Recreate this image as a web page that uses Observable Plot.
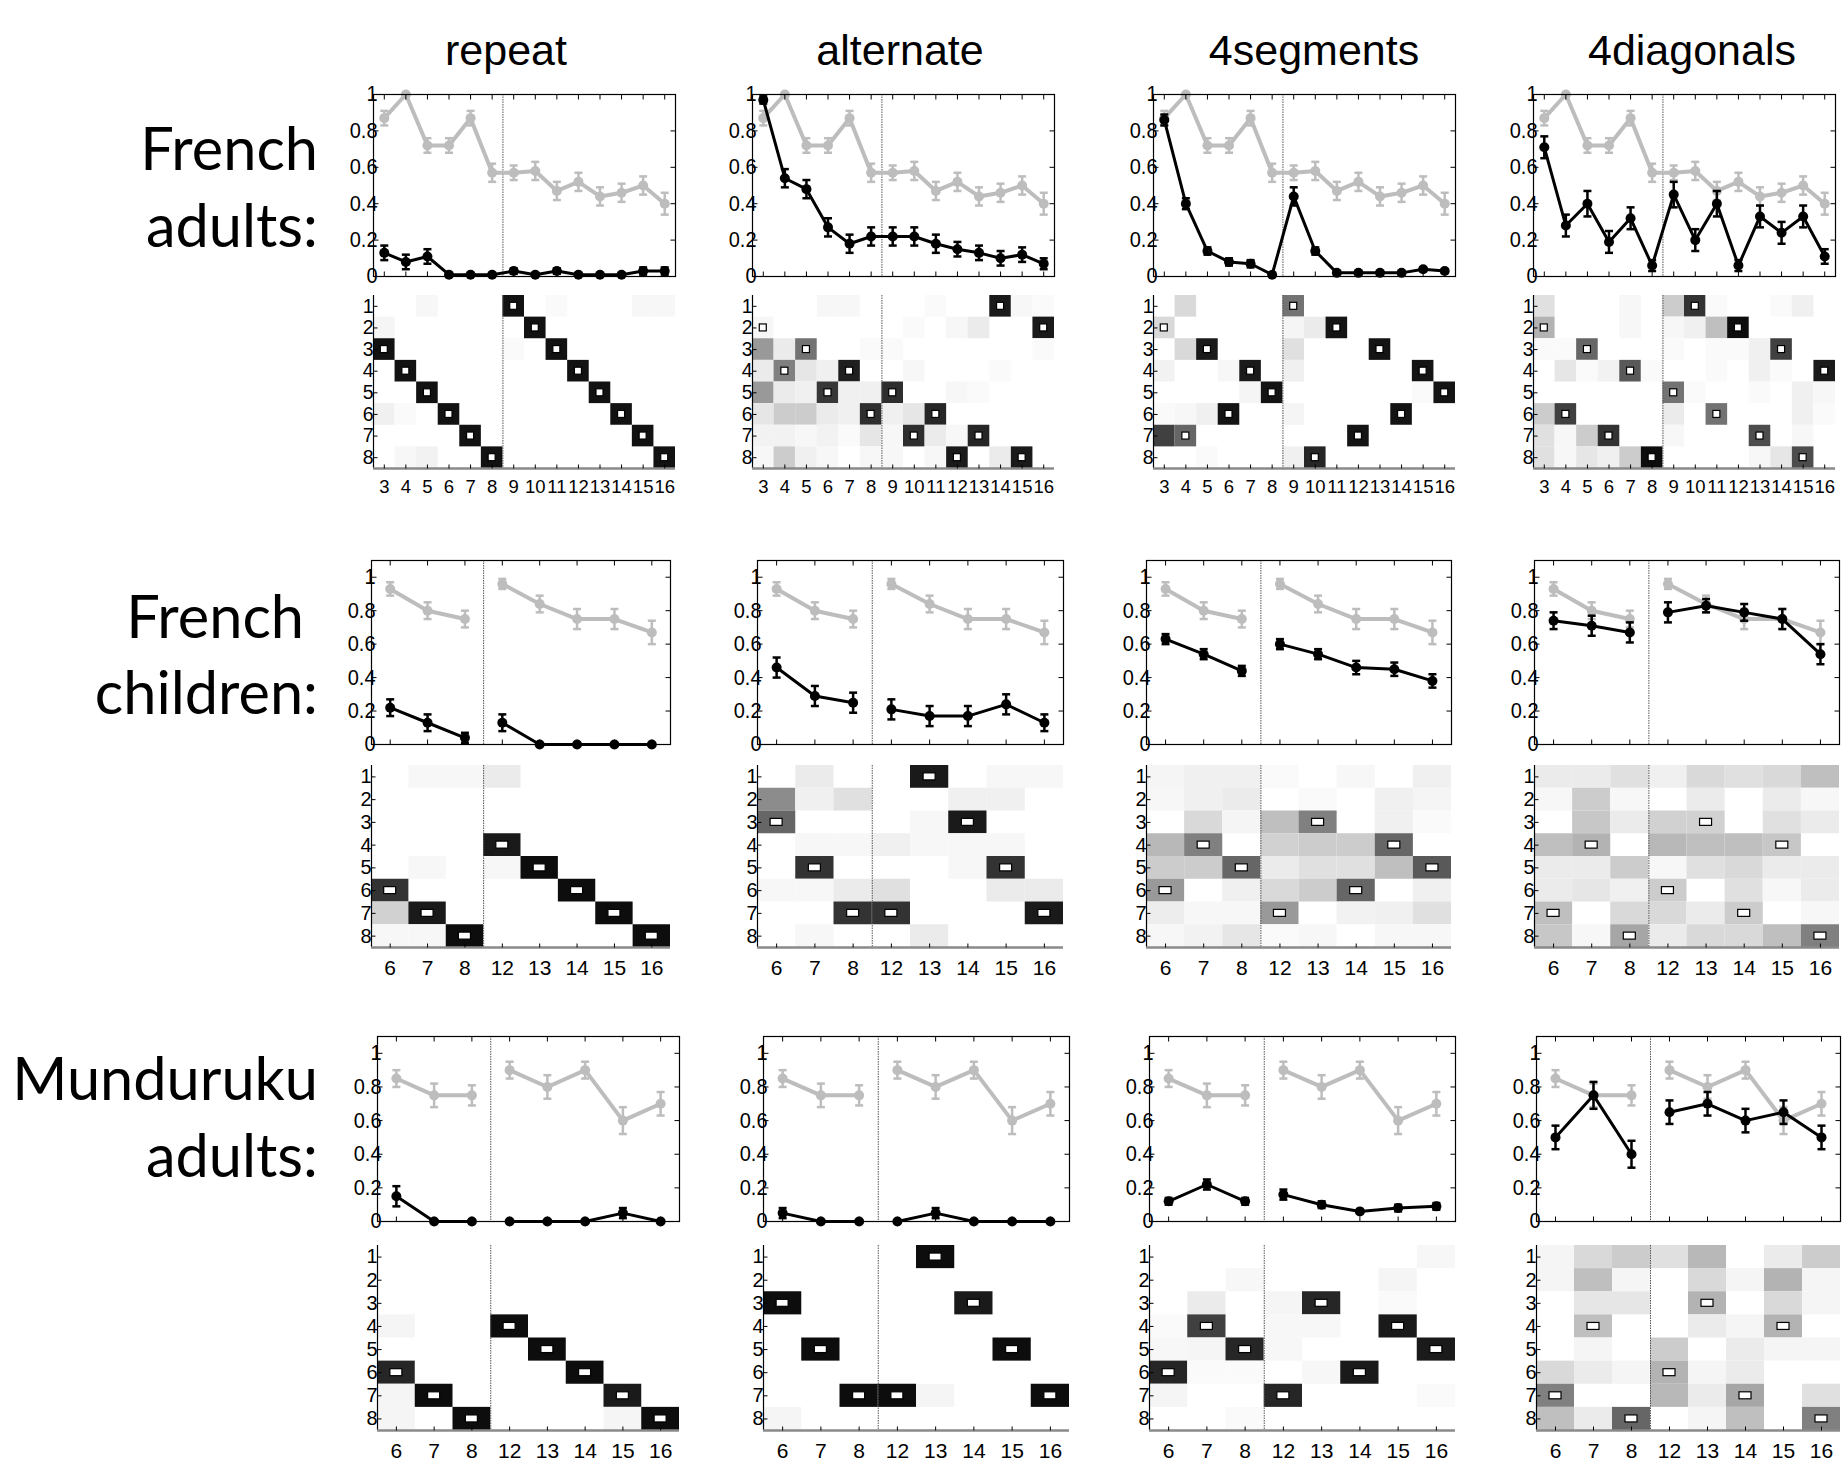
<!DOCTYPE html>
<html>
<head>
<meta charset="utf-8">
<script src="https://cdn.jsdelivr.net/npm/d3@7"></script>
<script src="https://cdn.jsdelivr.net/npm/@observablehq/plot@0.6"></script>
<style>
  html, body { margin: 0; padding: 0; background: #fff; }
  #root { position: relative; width: 1845px; height: 1467px; overflow: hidden; background: #fff; }
  .panel { position: absolute; }
  .title { position: absolute; font-family: "Liberation Sans", Arial, sans-serif; font-size: 43px; line-height: 43px; color: #000; transform: translateX(-50%); white-space: nowrap; }
  .glabel { position: absolute; font-family: Lato, "Noto Sans", sans-serif; font-size: 59.5px; line-height: 59.5px; color: #000; white-space: nowrap; text-align: right; }
</style>
</head>
<body>
<div id="root"></div>
<script>
// ---------------- DATA ----------------
const titles = ["repeat", "alternate", "4segments", "4diagonals"];
const groupLabels = [["French", "adults:"], ["French", "children:"], ["Munduruku", "adults:"]];
const colsAdults = [3, 4, 5, 6, 7, 8, 9, 10, 11, 12, 13, 14, 15, 16];
const colsShort = [6, 7, 8, 12, 13, 14, 15, 16];
const yTicks = [0, 0.2, 0.4, 0.6, 0.8, 1];
const rowTicks = [1, 2, 3, 4, 5, 6, 7, 8];

// grey reference series (same in every panel of a group)
const grayFA    = [0.87, 1.0, 0.72, 0.72, 0.87, 0.57, 0.57, 0.58, 0.47, 0.52, 0.44, 0.46, 0.50, 0.40];
const grayFAErr = [0.04, 0.0, 0.04, 0.04, 0.04, 0.05, 0.04, 0.05, 0.05, 0.05, 0.05, 0.05, 0.05, 0.06];
const grayFC    = [0.93, 0.80, 0.75, 0.96, 0.84, 0.75, 0.75, 0.67];
const grayFCErr = [0.04, 0.05, 0.05, 0.03, 0.05, 0.06, 0.06, 0.07];
const grayMA    = [0.85, 0.75, 0.75, 0.90, 0.80, 0.90, 0.60, 0.70];
const grayMAErr = [0.05, 0.07, 0.06, 0.05, 0.07, 0.05, 0.08, 0.07];

// black series: French adults
const faRepeat     = [0.13, 0.08, 0.11, 0.01, 0.01, 0.01, 0.03, 0.01, 0.03, 0.01, 0.01, 0.01, 0.03, 0.03];
const faRepeatErr  = [0.04, 0.04, 0.04, 0.01, 0, 0, 0.015, 0, 0.015, 0, 0, 0, 0.02, 0.02];
const faAlt        = [0.97, 0.54, 0.48, 0.27, 0.18, 0.22, 0.22, 0.22, 0.18, 0.15, 0.13, 0.10, 0.12, 0.07];
const faAltErr     = [0.02, 0.05, 0.05, 0.05, 0.05, 0.05, 0.05, 0.05, 0.05, 0.04, 0.04, 0.04, 0.04, 0.03];
const faSeg        = [0.86, 0.40, 0.14, 0.08, 0.07, 0.01, 0.44, 0.14, 0.02, 0.02, 0.02, 0.02, 0.04, 0.03];
const faSegErr     = [0.03, 0.03, 0.02, 0.02, 0.02, 0, 0.05, 0.02, 0, 0, 0, 0, 0.01, 0.01];
const faDiag       = [0.71, 0.28, 0.40, 0.19, 0.32, 0.06, 0.45, 0.20, 0.40, 0.06, 0.33, 0.24, 0.33, 0.11];
const faDiagErr    = [0.06, 0.06, 0.07, 0.06, 0.06, 0.03, 0.07, 0.06, 0.07, 0.03, 0.06, 0.06, 0.06, 0.04];
// French children
const fcRepeat     = [0.22, 0.13, 0.04, 0.13, 0.0, 0.0, 0.0, 0.0];
const fcRepeatErr  = [0.05, 0.05, 0.03, 0.05, 0, 0, 0, 0];
const fcAlt        = [0.46, 0.29, 0.25, 0.21, 0.17, 0.17, 0.24, 0.13];
const fcAltErr     = [0.06, 0.06, 0.06, 0.06, 0.06, 0.06, 0.06, 0.05];
const fcSeg        = [0.63, 0.54, 0.44, 0.60, 0.54, 0.46, 0.45, 0.38];
const fcSegErr     = [0.03, 0.03, 0.03, 0.03, 0.03, 0.04, 0.04, 0.04];
const fcDiag       = [0.74, 0.71, 0.67, 0.79, 0.83, 0.79, 0.75, 0.54];
const fcDiagErr    = [0.05, 0.06, 0.06, 0.06, 0.04, 0.05, 0.06, 0.06];
// Munduruku adults
const maRepeat     = [0.15, 0.0, 0.0, 0.0, 0.0, 0.0, 0.05, 0.0];
const maRepeatErr  = [0.06, 0, 0, 0, 0, 0, 0.03, 0];
const maAlt        = [0.05, 0.0, 0.0, 0.0, 0.05, 0.0, 0.0, 0.0];
const maAltErr     = [0.03, 0, 0, 0, 0.03, 0, 0, 0];
const maSeg        = [0.12, 0.22, 0.12, 0.16, 0.10, 0.06, 0.08, 0.09];
const maSegErr     = [0.02, 0.03, 0.02, 0.03, 0.02, 0.01, 0.02, 0.02];
const maDiag       = [0.50, 0.75, 0.40, 0.65, 0.70, 0.60, 0.65, 0.50];
const maDiagErr    = [0.07, 0.08, 0.08, 0.07, 0.07, 0.07, 0.07, 0.07];

// response matrices (rows 1..8 x columns) and target rows per column
const heatFARepeat = [
  [0, 0, 0.03, 0, 0, 0, 0.93, 0, 0.02, 0, 0, 0, 0.03, 0.03],
  [0.04, 0, 0, 0, 0, 0, 0, 0.93, 0, 0, 0, 0, 0, 0],
  [0.93, 0, 0, 0, 0, 0, 0.02, 0, 0.93, 0, 0, 0, 0, 0],
  [0, 0.93, 0, 0, 0, 0, 0, 0, 0, 0.93, 0, 0, 0, 0],
  [0, 0, 0.93, 0, 0, 0, 0, 0, 0, 0, 0.93, 0, 0, 0],
  [0.06, 0.02, 0, 0.93, 0, 0, 0, 0, 0, 0, 0, 0.93, 0, 0],
  [0, 0, 0, 0, 0.93, 0, 0, 0, 0, 0, 0, 0, 0.93, 0],
  [0, 0.03, 0.05, 0, 0, 0.93, 0, 0, 0, 0, 0, 0, 0, 0.93]
];
const targetFARepeat = [3, 4, 5, 6, 7, 8, 1, 2, 3, 4, 5, 6, 7, 8];
const heatFAAlt = [
  [0, 0, 0, 0.03, 0.03, 0, 0, 0, 0.02, 0, 0, 0.9, 0.03, 0.02],
  [0.03, 0, 0, 0, 0, 0, 0, 0.02, 0, 0.03, 0.08, 0, 0, 0.9],
  [0.4, 0.08, 0.55, 0, 0, 0.02, 0.02, 0, 0, 0, 0, 0, 0, 0.02],
  [0.08, 0.5, 0.1, 0.06, 0.88, 0, 0, 0.03, 0, 0, 0, 0.02, 0, 0],
  [0.4, 0.08, 0.06, 0.78, 0.06, 0.06, 0.82, 0, 0, 0.03, 0.02, 0, 0, 0],
  [0.1, 0.2, 0.2, 0.08, 0.06, 0.82, 0.06, 0.1, 0.85, 0, 0, 0, 0, 0],
  [0.05, 0.05, 0.03, 0.05, 0.02, 0.1, 0.03, 0.82, 0.08, 0.03, 0.85, 0, 0, 0],
  [0.03, 0.2, 0.06, 0.03, 0, 0.03, 0.03, 0, 0.03, 0.9, 0, 0.08, 0.9, 0]
];
const targetFAAlt = [2, 4, 3, 5, 4, 6, 5, 7, 6, 8, 7, 1, 8, 2];
const heatFASeg = [
  [0, 0.15, 0, 0, 0, 0, 0.55, 0, 0, 0, 0, 0, 0, 0],
  [0.15, 0, 0, 0, 0, 0, 0.04, 0.08, 0.92, 0, 0, 0, 0, 0],
  [0, 0.15, 0.9, 0, 0, 0, 0.12, 0, 0, 0, 0.92, 0, 0, 0],
  [0.05, 0, 0, 0.03, 0.9, 0, 0.06, 0, 0, 0, 0, 0, 0.92, 0],
  [0, 0, 0, 0, 0.04, 0.92, 0, 0, 0, 0, 0, 0, 0.02, 0.92],
  [0.02, 0.03, 0.06, 0.92, 0, 0, 0.04, 0, 0, 0, 0, 0.92, 0, 0],
  [0.75, 0.6, 0, 0, 0, 0, 0, 0, 0, 0.92, 0, 0, 0, 0],
  [0, 0, 0.02, 0, 0, 0, 0.06, 0.85, 0, 0, 0, 0, 0, 0]
];
const targetFASeg = [2, 7, 3, 6, 4, 5, 1, 8, 2, 7, 3, 6, 4, 5];
const heatFADiag = [
  [0.12, 0, 0, 0, 0.03, 0, 0.2, 0.8, 0.02, 0, 0, 0.02, 0.06, 0],
  [0.3, 0, 0, 0, 0.03, 0, 0.03, 0.06, 0.25, 0.95, 0, 0, 0, 0],
  [0.02, 0.02, 0.6, 0, 0, 0, 0.02, 0, 0.02, 0.02, 0.06, 0.75, 0, 0],
  [0, 0.1, 0.02, 0.05, 0.65, 0.02, 0, 0, 0.02, 0, 0.06, 0.02, 0, 0.9],
  [0, 0, 0, 0, 0, 0, 0.55, 0.02, 0, 0, 0.02, 0, 0.06, 0.03],
  [0.2, 0.75, 0, 0, 0, 0, 0.08, 0, 0.55, 0, 0, 0, 0.06, 0.02],
  [0.12, 0.03, 0.2, 0.8, 0, 0, 0.03, 0, 0, 0, 0.7, 0, 0.03, 0],
  [0.12, 0.03, 0.1, 0.06, 0.2, 0.95, 0, 0, 0, 0, 0.03, 0.1, 0.7, 0]
];
const targetFADiag = [2, 6, 3, 7, 4, 8, 5, 1, 6, 2, 7, 3, 8, 4];

const heatFCRepeat = [
  [0, 0.03, 0.03, 0.08, 0, 0, 0, 0],
  [0, 0, 0, 0, 0, 0, 0, 0],
  [0, 0, 0, 0, 0, 0, 0, 0],
  [0, 0, 0, 0.9, 0, 0, 0, 0],
  [0, 0.03, 0, 0.03, 0.95, 0, 0, 0],
  [0.8, 0, 0, 0, 0, 0.95, 0, 0],
  [0.18, 0.9, 0, 0, 0, 0, 0.95, 0],
  [0.03, 0.03, 0.95, 0, 0, 0, 0, 0.95]
];
const targetFCRepeat = [6, 7, 8, 4, 5, 6, 7, 8];
const heatFCAlt = [
  [0, 0.08, 0, 0, 0.9, 0, 0.03, 0.03],
  [0.45, 0.06, 0.12, 0, 0, 0.06, 0.06, 0],
  [0.6, 0, 0, 0, 0.03, 0.9, 0, 0],
  [0, 0.03, 0.03, 0.06, 0.03, 0.03, 0.03, 0],
  [0, 0.8, 0, 0, 0, 0.03, 0.8, 0],
  [0.03, 0.03, 0.08, 0.12, 0, 0, 0.08, 0.08],
  [0, 0, 0.8, 0.8, 0, 0, 0, 0.9],
  [0, 0.03, 0, 0, 0.08, 0, 0, 0]
];
const targetFCAlt = [3, 5, 7, 7, 1, 3, 5, 7];
const heatFCSeg = [
  [0.04, 0.06, 0.06, 0.02, 0, 0.03, 0, 0.06],
  [0.03, 0.06, 0.08, 0, 0.02, 0, 0.06, 0.04],
  [0, 0.15, 0.04, 0.25, 0.5, 0, 0.06, 0.02],
  [0.28, 0.5, 0, 0.18, 0.2, 0.2, 0.6, 0],
  [0.2, 0.2, 0.6, 0.08, 0.12, 0.12, 0.25, 0.65],
  [0.4, 0, 0.06, 0.15, 0.2, 0.6, 0, 0.06],
  [0.07, 0.03, 0.03, 0.4, 0, 0.05, 0.06, 0.12],
  [0.03, 0.05, 0.1, 0.02, 0.03, 0, 0.03, 0.03]
];
const targetFCSeg = [6, 4, 5, 7, 3, 6, 4, 5];
const heatFCDiag = [
  [0.08, 0.08, 0.12, 0.06, 0.15, 0.12, 0.15, 0.25],
  [0.03, 0.2, 0.03, 0, 0.08, 0, 0.08, 0.03],
  [0, 0.22, 0.08, 0.18, 0.18, 0, 0.12, 0.08],
  [0.25, 0.3, 0, 0.28, 0.25, 0.25, 0.22, 0],
  [0.08, 0.08, 0.2, 0.03, 0.12, 0.15, 0.08, 0.08],
  [0.08, 0.1, 0.06, 0.2, 0, 0.12, 0.03, 0.08],
  [0.25, 0, 0.15, 0.15, 0.08, 0.2, 0, 0.03],
  [0.22, 0.03, 0.35, 0.08, 0.15, 0.15, 0.25, 0.5]
];
const targetFCDiag = [7, 4, 8, 6, 3, 7, 4, 8];

const heatMARepeat = [
  [0, 0, 0, 0, 0, 0, 0, 0],
  [0, 0, 0, 0, 0, 0, 0, 0],
  [0, 0, 0, 0, 0, 0, 0, 0],
  [0.04, 0, 0, 0.95, 0, 0, 0, 0],
  [0, 0, 0, 0, 0.95, 0, 0, 0],
  [0.85, 0, 0, 0, 0, 0.95, 0, 0],
  [0.04, 0.95, 0, 0, 0, 0, 0.9, 0],
  [0.04, 0, 0.95, 0, 0, 0, 0.04, 0.95]
];
const targetMARepeat = [6, 7, 8, 4, 5, 6, 7, 8];
const heatMAAlt = [
  [0, 0, 0, 0, 0.95, 0, 0, 0],
  [0, 0, 0, 0, 0, 0, 0, 0],
  [0.95, 0, 0, 0, 0, 0.9, 0, 0],
  [0, 0, 0, 0, 0, 0, 0, 0],
  [0, 0.95, 0, 0, 0, 0, 0.95, 0],
  [0, 0, 0, 0, 0, 0, 0, 0],
  [0, 0, 0.95, 0.95, 0.04, 0, 0, 0.95],
  [0.04, 0, 0, 0, 0, 0, 0, 0]
];
const targetMAAlt = [3, 5, 7, 7, 1, 3, 5, 7];
const heatMASeg = [
  [0, 0, 0, 0, 0, 0, 0, 0.03],
  [0, 0, 0.03, 0, 0, 0, 0.04, 0],
  [0, 0.08, 0, 0.04, 0.85, 0, 0.02, 0],
  [0.02, 0.75, 0, 0.03, 0.03, 0, 0.9, 0],
  [0.03, 0.04, 0.85, 0.03, 0, 0, 0, 0.9],
  [0.85, 0.02, 0.02, 0, 0.03, 0.9, 0, 0],
  [0.04, 0, 0, 0.85, 0, 0, 0, 0.02],
  [0, 0, 0.02, 0, 0, 0, 0, 0]
];
const targetMASeg = [6, 4, 5, 7, 3, 6, 4, 5];
const heatMADiag = [
  [0.04, 0.15, 0.2, 0.12, 0.28, 0, 0.08, 0.2],
  [0.04, 0.25, 0.04, 0, 0.15, 0.04, 0.3, 0.04],
  [0, 0.1, 0.1, 0, 0.3, 0, 0.15, 0.04],
  [0, 0.25, 0, 0, 0.08, 0.04, 0.3, 0],
  [0, 0.04, 0, 0.2, 0, 0.08, 0.04, 0.04],
  [0.15, 0.08, 0.04, 0.3, 0.04, 0.08, 0, 0],
  [0.5, 0, 0, 0.28, 0.08, 0.35, 0, 0.12],
  [0.25, 0.08, 0.6, 0, 0.04, 0.25, 0, 0.5]
];
const targetMADiag = [7, 4, 8, 6, 3, 7, 4, 8];

// ---------------- LAYOUT ----------------
const root = document.getElementById("root");
const FONT = '"Liberation Sans", Arial, Helvetica, sans-serif';
const GRAY = "#bdbdbd";

const groups = [
  { cols: colsAdults, gray: grayFA, grayErr: grayFAErr, ymax: 1.0, divAt: 5.5, split: false,
    lineTop: 94, lineBottom: 276, heatTop: 295, heatBottom: 468, xfs: 18.5, xdy: 19, mark: [7, 7], yfs: 19.5, yk: 1.08,
    lefts: [373, 752, 1153, 1533], widths: [302, 302, 302, 302],
    panels: [[faRepeat, faRepeatErr, heatFARepeat, targetFARepeat], [faAlt, faAltErr, heatFAAlt, targetFAAlt],
             [faSeg, faSegErr, heatFASeg, targetFASeg], [faDiag, faDiagErr, heatFADiag, targetFADiag]] },
  { cols: colsShort, gray: grayFC, grayErr: grayFCErr, ymax: 1.1, divAt: 2.5, split: true,
    lineTop: 560, lineBottom: 744, heatTop: 765, heatBottom: 947, xfs: 21, xdy: 21, mark: [12, 7], yfs: 20, yk: 1.1,
    lefts: [371, 757, 1146, 1534], widths: [299, 306, 305, 305],
    panels: [[fcRepeat, fcRepeatErr, heatFCRepeat, targetFCRepeat], [fcAlt, fcAltErr, heatFCAlt, targetFCAlt],
             [fcSeg, fcSegErr, heatFCSeg, targetFCSeg], [fcDiag, fcDiagErr, heatFCDiag, targetFCDiag]] },
  { cols: colsShort, gray: grayMA, grayErr: grayMAErr, ymax: 1.1, divAt: 2.5, split: true,
    lineTop: 1036, lineBottom: 1221, heatTop: 1245, heatBottom: 1430, xfs: 21, xdy: 21, mark: [12, 7], yfs: 20, yk: 1.1,
    lefts: [377, 763, 1149, 1536], widths: [302, 306, 306, 304],
    panels: [[maRepeat, maRepeatErr, heatMARepeat, targetMARepeat], [maAlt, maAltErr, heatMAAlt, targetMAAlt],
             [maSeg, maSegErr, heatMASeg, targetMASeg], [maDiag, maDiagErr, heatMADiag, targetMADiag]] }
];

function place(svg, left, top, w, h) {
  const d = document.createElement("div");
  d.className = "panel";
  d.style.left = left + "px"; d.style.top = top + "px";
  d.style.width = w + "px"; d.style.height = h + "px";
  d.appendChild(svg);
  root.appendChild(d);
}

// stretch tick-label glyphs vertically (the original figure's labels are tall and narrow)
function stretchTexts(svg, k, selector) {
  svg.querySelectorAll(selector || 'g[aria-label="text"] text').forEach(t => {
    const tr = t.getAttribute("transform") || "";
    const x = +t.getAttribute("x") || 0, y = +t.getAttribute("y") || 0;
    t.setAttribute("transform", `${tr} translate(${x},${y}) scale(1,${k}) translate(${-x},${-y})`);
  });
}

function series(vals, errs, split) {
  return vals.map((v, i) => ({ i, v, e: errs[i], seg: split && i > 2 ? 1 : 0 }));
}

function linePanel(g, blk, blkErr, left, width) {
  const n = g.cols.length;
  const H = g.lineBottom - g.lineTop;
  const ml = 60, mr = 10, mt = 10, mb = 10;
  const stepX = width / n, pxY = H / g.ymax, tl = 5;
  const grayD = series(g.gray, g.grayErr, g.split);
  const blkD = series(blk, blkErr, g.split);
  const cap = 4 / stepX;
  const errMarks = (D, color, sw) => {
    const E = D.filter(d => d.e > 0);
    return [
      Plot.ruleX(E, { x: "i", y1: d => d.v - d.e, y2: d => d.v + d.e, stroke: color, strokeWidth: sw }),
      Plot.link(E, { x1: d => d.i - cap, x2: d => d.i + cap, y1: d => d.v + d.e, y2: d => d.v + d.e, stroke: color, strokeWidth: sw }),
      Plot.link(E, { x1: d => d.i - cap, x2: d => d.i + cap, y1: d => d.v - d.e, y2: d => d.v - d.e, stroke: color, strokeWidth: sw })
    ];
  };
  const xi = d3.range(n);
  const svg = Plot.plot({
    width: width + ml + mr, height: H + mt + mb,
    marginLeft: ml, marginRight: mr, marginTop: mt, marginBottom: mb,
    x: { domain: [-0.5, n - 0.5], axis: null },
    y: { domain: [0, g.ymax], axis: null },
    style: { background: "transparent", overflow: "visible", fontFamily: FONT },
    marks: [
      Plot.ruleX([g.divAt], { stroke: "#555", strokeWidth: 1, strokeDasharray: "1.5,1" }),
      Plot.line(grayD, { x: "i", y: "v", z: "seg", stroke: GRAY, strokeWidth: 4 }),
      ...errMarks(grayD, GRAY, 2.5),
      Plot.dot(grayD, { x: "i", y: "v", r: 5, fill: GRAY }),
      Plot.line(blkD, { x: "i", y: "v", z: "seg", stroke: "#000", strokeWidth: 3 }),
      ...errMarks(blkD, "#000", 2.5),
      Plot.dot(blkD, { x: "i", y: "v", r: 5, fill: "#000" }),
      // inward ticks
      Plot.link(xi, { x1: d => d, x2: d => d, y1: 0, y2: tl / pxY, stroke: "#000", strokeWidth: 1 }),
      Plot.link(xi, { x1: d => d, x2: d => d, y1: g.ymax, y2: g.ymax - tl / pxY, stroke: "#000", strokeWidth: 1 }),
      Plot.link(yTicks, { x1: -0.5, x2: -0.5 + tl / stepX, y1: d => d, y2: d => d, stroke: "#000", strokeWidth: 1 }),
      Plot.link(yTicks, { x1: n - 0.5, x2: n - 0.5 - tl / stepX, y1: d => d, y2: d => d, stroke: "#000", strokeWidth: 1 }),
      Plot.frame({ stroke: "#000", strokeWidth: 1.2 }),
      Plot.text(yTicks, { x: -0.5, y: d => d, text: d => (d === 0 || d === 1) ? String(d) : d.toFixed(1),
        textAnchor: "end", dx: 4, fontSize: 20, fill: "#000" })
    ]
  });
  place(svg, left - ml, g.lineTop - mt, width + ml + mr, H + mt + mb);
  stretchTexts(svg, 1.08);
}

function heatPanel(g, mat, targets, left, width) {
  const n = g.cols.length;
  const H = g.heatBottom - g.heatTop;
  const ml = 40, mr = 10, mt = 5, mb = 35;
  const cw = width / n, ch = H / 8, tl = 4;
  const cells = [];
  mat.forEach((row, r) => row.forEach((v, i) => { if (v > 0) cells.push({ i, r: r + 1, v }); }));
  const tg = targets.map((r, i) => ({ i, r }));
  const [mw, mh] = g.mark;
  const xi = d3.range(n);
  const svg = Plot.plot({
    width: width + ml + mr, height: H + mt + mb,
    marginLeft: ml, marginRight: mr, marginTop: mt, marginBottom: mb,
    x: { domain: [-0.5, n - 0.5], axis: null },
    y: { domain: [0.5, 8.5], reverse: true, axis: null },
    color: { type: "linear", domain: [0, 1], range: ["#ffffff", "#000000"], interpolate: "rgb" },
    style: { background: "transparent", overflow: "visible", fontFamily: FONT },
    marks: [
      Plot.rect(cells, { x1: d => d.i - 0.5, x2: d => d.i + 0.5, y1: d => d.r - 0.5, y2: d => d.r + 0.5, fill: "v" }),
      Plot.rect(tg, { x1: d => d.i - 0.5, x2: d => d.i + 0.5, y1: d => d.r - 0.5, y2: d => d.r + 0.5,
        insetLeft: (cw - mw) / 2, insetRight: (cw - mw) / 2, insetTop: (ch - mh) / 2, insetBottom: (ch - mh) / 2,
        fill: "#fff", stroke: "#000", strokeWidth: 1.2 }),
      Plot.ruleX([g.divAt], { stroke: "#555", strokeWidth: 1, strokeDasharray: "1.5,1" }),
      Plot.ruleX([-0.5], { stroke: "#000", strokeWidth: 1.2 }),
      Plot.ruleY([8.5], { stroke: "#8a8a8a", strokeWidth: 2.5 }),
      Plot.link(xi, { x1: d => d, x2: d => d, y1: 8.5, y2: 8.5 - tl / ch, stroke: "#000", strokeWidth: 1 }),
      Plot.link(rowTicks, { x1: -0.5, x2: -0.5 + tl / cw, y1: d => d, y2: d => d, stroke: "#000", strokeWidth: 1 }),
      Plot.text(rowTicks, { x: -0.5, y: d => d, text: d => String(d), textAnchor: "end", dx: 0, fontSize: g.yfs, fill: "#000", ariaLabel: "ylabels" }),
      Plot.text(xi, { x: d => d, y: 8.5, dy: g.xdy, text: d => String(g.cols[d]), fontSize: g.xfs, fill: "#000", ariaLabel: "xlabels" })
    ]
  });
  place(svg, left - ml, g.heatTop - mt, width + ml + mr, H + mt + mb);
  stretchTexts(svg, g.yk, 'g[aria-label="ylabels"] text');
  stretchTexts(svg, 1.22, 'g[aria-label="xlabels"] text');
}

groups.forEach(g => {
  g.panels.forEach(([blk, blkErr, mat, targets], p) => {
    linePanel(g, blk, blkErr, g.lefts[p], g.widths[p]);
    heatPanel(g, mat, targets, g.lefts[p], g.widths[p]);
  });
});

// titles
const titleX = [506, 900, 1314, 1692];
titles.forEach((t, k) => {
  const d = document.createElement("div");
  d.className = "title";
  d.textContent = t;
  d.style.left = titleX[k] + "px";
  d.style.top = "29px";
  root.appendChild(d);
});

// group labels (right aligned)
const labelPos = [
  [[318, 150], [318, 227]],
  [[304, 618], [318, 694]],
  [[318, 1080], [318, 1157]]
];
groupLabels.forEach((lines, k) => {
  lines.forEach((txt, j) => {
    const d = document.createElement("div");
    d.className = "glabel";
    d.textContent = txt;
    const [rx, cy] = labelPos[k][j];
    d.style.right = (1845 - rx) + "px";
    d.style.top = (cy - 32) + "px";
    root.appendChild(d);
  });
});
</script>
</body>
</html>
